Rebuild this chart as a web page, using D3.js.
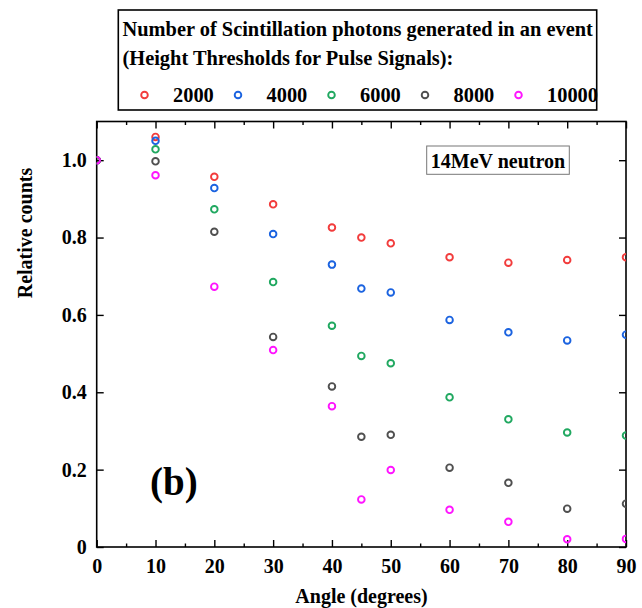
<!DOCTYPE html>
<html>
<head>
<meta charset="utf-8">
<script src="https://cdn.jsdelivr.net/npm/d3@7"></script>
<style>
	body { margin: 0; background: #fff; }
	text { font-family: "Liberation Serif", "Times New Roman", serif; font-weight: bold; }
</style>
</head>
<body>
<script>
(function () {
	"use strict";

	var w = 642;
	var h = 608;

	// data
	var angles = [0, 10, 20, 30, 40, 45, 50, 60, 70, 80, 90];
	var thresholds = ["2000", "4000", "6000", "8000", "10000"];
	var counts2000 = [1.0, 1.060, 0.957, 0.886, 0.826, 0.800, 0.785, 0.749, 0.735, 0.742, 0.749];
	var counts4000 = [1.0, 1.050, 0.928, 0.809, 0.730, 0.668, 0.658, 0.587, 0.555, 0.534, 0.549];
	var counts6000 = [1.0, 1.028, 0.873, 0.685, 0.572, 0.494, 0.475, 0.387, 0.330, 0.296, 0.288];
	var counts8000 = [1.0, 0.997, 0.815, 0.543, 0.415, 0.285, 0.290, 0.205, 0.166, 0.099, 0.112];
	var counts10000 = [1.0, 0.961, 0.673, 0.509, 0.364, 0.123, 0.199, 0.096, 0.065, 0.020, 0.021];
	var xTicks = [0, 10, 20, 30, 40, 50, 60, 70, 80, 90];
	var xMinorTicks = [5, 15, 25, 35, 45, 55, 65, 75, 85];
	var yTicks = [0, 0.2, 0.4, 0.6, 0.8, 1.0];

	var colors = ["#f23c3c", "#1b63e0", "#20a860", "#4f4f4f", "#ff14ff"];
	var series = [counts2000, counts4000, counts6000, counts8000, counts10000];

	var left = 96.7, right = 626, top = 121.5, bottom = 547;

	var svg = d3.select("body")
		.append("svg")
		.attr("width", w)
		.attr("height", h);

	var xScale = d3.scaleLinear()
		.domain([0, 90])
		.range([left, right]);

	var yScale = d3.scaleLinear()
		.domain([0, 1.1])
		.range([bottom, top]);

	function styleAxis(g) {
		g.select(".domain").remove();
		g.selectAll("line").attr("stroke", "#000").attr("stroke-width", 1.4);
		g.selectAll("text")
			.attr("fill", "#000")
			.style("font-size", "20px")
			.style("font-family", "'Liberation Serif', serif")
			.style("font-weight", "bold");
	}

	// Axis
	svg.append("g")
		.attr("transform", "translate(0," + bottom + ")")
		.call(d3.axisBottom(xScale).tickValues(xTicks).tickSizeInner(-7).tickSizeOuter(0).tickPadding(12))
		.call(styleAxis);
	svg.append("g")
		.attr("transform", "translate(0," + bottom + ")")
		.call(d3.axisBottom(xScale).tickValues(xMinorTicks).tickSizeInner(-3.5).tickSizeOuter(0).tickFormat(""))
		.call(styleAxis);
	svg.append("g")
		.attr("transform", "translate(0," + top + ")")
		.call(d3.axisTop(xScale).tickValues(xTicks).tickSizeInner(-7).tickSizeOuter(0).tickFormat(""))
		.call(styleAxis);
	svg.append("g")
		.attr("transform", "translate(0," + top + ")")
		.call(d3.axisTop(xScale).tickValues(xMinorTicks).tickSizeInner(-3.5).tickSizeOuter(0).tickFormat(""))
		.call(styleAxis);
	svg.append("g")
		.attr("transform", "translate(" + left + ",0)")
		.call(d3.axisLeft(yScale).tickValues(yTicks).tickSizeInner(-7).tickSizeOuter(0).tickPadding(10)
			.tickFormat((d) => d === 0 ? "0" : d3.format(".1f")(d)))
		.call(styleAxis);
	svg.append("g")
		.attr("transform", "translate(" + right + ",0)")
		.call(d3.axisRight(yScale).tickValues(yTicks).tickSizeInner(-7).tickSizeOuter(0).tickFormat(""))
		.call(styleAxis);

	// frame
	svg.append("rect")
		.attr("x", left)
		.attr("y", top)
		.attr("width", right - left)
		.attr("height", bottom - top)
		.attr("fill", "none")
		.attr("stroke", "#000")
		.attr("stroke-width", 1.6);

	svg.append("clipPath")
		.attr("id", "plotclip")
		.append("rect")
		.attr("x", left)
		.attr("y", top)
		.attr("width", right - left)
		.attr("height", bottom - top);

	// points
	var plot = svg.append("g").attr("clip-path", "url(#plotclip)");
	series.forEach(function (vals, i) {
		plot.selectAll(null)
			.data(vals)
			.enter()
			.append("circle")
			.attr("cx", (d, j) => xScale(angles[j]))
			.attr("cy", (d) => yScale(d))
			.attr("r", 3.3)
			.attr("fill", "none")
			.attr("stroke", colors[i])
			.attr("stroke-width", 1.9);
	});

	// axis titles
	svg.append("text")
		.attr("x", 361.5)
		.attr("y", 603)
		.attr("text-anchor", "middle")
		.style("font-size", "20px")
		.text("Angle (degrees)");

	svg.append("text")
		.attr("transform", "translate(32,233) rotate(-90)")
		.attr("text-anchor", "middle")
		.style("font-size", "20px")
		.text("Relative counts");

	// (b)
	svg.append("text")
		.attr("x", 150)
		.attr("y", 495)
		.style("font-size", "39px")
		.text("(b)");

	// 14MeV neutron box
	svg.append("rect")
		.attr("x", 426.7)
		.attr("y", 146)
		.attr("width", 142.6)
		.attr("height", 28.3)
		.attr("fill", "#fff")
		.attr("stroke", "#777")
		.attr("stroke-width", 1);
	svg.append("text")
		.attr("x", 498)
		.attr("y", 167.5)
		.attr("text-anchor", "middle")
		.style("font-size", "20px")
		.text("14MeV neutron");

	// legend
	var legend = svg.append("g");
	legend.append("rect")
		.attr("x", 118.3)
		.attr("y", 10)
		.attr("width", 478.4)
		.attr("height", 100)
		.attr("fill", "#fff")
		.attr("stroke", "#000")
		.attr("stroke-width", 1.6);
	legend.append("text")
		.attr("x", 122.5)
		.attr("y", 35.7)
		.style("font-size", "20.4px")
		.text("Number of Scintillation photons generated in an event");
	legend.append("text")
		.attr("x", 122.5)
		.attr("y", 65)
		.style("font-size", "20.4px")
		.text("(Height Thresholds for Pulse Signals):");

	var markerX = [144.5, 238, 331.5, 425, 518.5];
	thresholds.forEach(function (t, i) {
		legend.append("circle")
			.attr("cx", markerX[i])
			.attr("cy", 95)
			.attr("r", 3.3)
			.attr("fill", "none")
			.attr("stroke", colors[i])
			.attr("stroke-width", 1.9);
		legend.append("text")
			.attr("x", markerX[i] + 28.5)
			.attr("y", 101.7)
			.style("font-size", "20.4px")
			.text(t);
	});
})();
</script>
</body>
</html>
